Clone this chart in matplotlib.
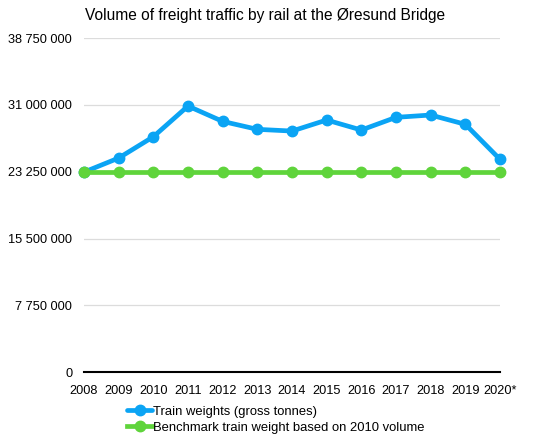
import matplotlib
matplotlib.use("Agg")
import matplotlib.pyplot as plt
from matplotlib.ticker import FuncFormatter

years = ["2008", "2009", "2010", "2011", "2012", "2013", "2014",
         "2015", "2016", "2017", "2018", "2019", "2020*"]
train_weights = [23.2e6, 24.83e6, 27.30e6, 30.86e6, 29.08e6, 28.16e6, 27.96e6,
                 29.24e6, 28.08e6, 29.55e6, 29.82e6, 28.74e6, 24.68e6]
benchmark = [23.25e6] * len(years)
y_ticks = [0, 7750000, 15500000, 23250000, 31000000, 38750000]

plt.rcParams["font.family"] = ["Liberation Sans", "DejaVu Sans"]

fig = plt.figure(figsize=(5.5, 4.42), dpi=100)
ax = fig.add_axes([0.1527, 0.158, 0.7564, 0.756])

x = list(range(len(years)))
ax.plot(x, train_weights, color="#0BA4F4", lw=3.4, marker="o", ms=7.5,
        label="Train weights (gross tonnes)", zorder=2, solid_capstyle="round")
ax.plot(x, benchmark, color="#5FD43B", lw=3.4, marker="o", ms=7.5,
        label="Benchmark train weight based on 2010 volume", zorder=3)

ax.set_ylim(0, 38750000)
ax.set_xlim(0, len(years) - 1)
ax.set_yticks(y_ticks)
ax.yaxis.set_major_formatter(FuncFormatter(lambda v, p: f"{int(v):,}".replace(",", " ")))
ax.set_xticks(x)
ax.set_xticklabels(years)
ax.tick_params(length=0, labelsize=9.2, colors="black")
ax.tick_params(axis="y", pad=8.5)
ax.tick_params(axis="x", pad=9)

ax.grid(axis="y", color="#DCDCDC", lw=0.9)
ax.set_axisbelow(True)
for s in ["top", "right", "left"]:
    ax.spines[s].set_visible(False)
ax.spines["bottom"].set_linewidth(1.5)
ax.spines["bottom"].set_zorder(1)

for line in ax.lines:
    line.set_clip_on(False)

fig.text(0.155, 0.966, "Volume of freight traffic by rail at the Øresund Bridge",
         fontsize=11.2, ha="left", va="center")

fig.legend(loc="upper left", bbox_to_anchor=(0.222, 0.094), frameon=False,
           fontsize=9.4, handlelength=1.9, handletextpad=0.1,
           labelspacing=0.3, borderaxespad=0)

fig.savefig("out.png", dpi=100)
